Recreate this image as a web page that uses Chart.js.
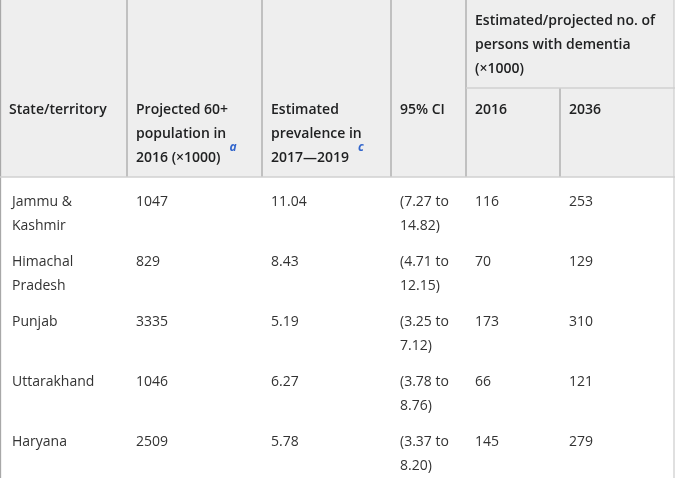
<!DOCTYPE html>
<html>
<head>
<meta charset="utf-8">
<script src="https://cdn.jsdelivr.net/npm/chart.js@4"></script>
<style>
  html, body { margin: 0; padding: 0; background: #fff; }
  #wrap { width: 675px; height: 478px; }
</style>
</head>
<body>
<div id="wrap"><canvas id="tbl" width="675" height="478"></canvas></div>
<script>
// dados da tabela
const states = [['Jammu &', 'Kashmir'], ['Himachal', 'Pradesh'], ['Punjab'], ['Uttarakhand'], ['Haryana']];
const population2016 = [1047, 829, 3335, 1046, 2509];
const prevalence = ['11.04', '8.43', '5.19', '6.27', '5.78'];
const ciLow = ['7.27', '4.71', '3.25', '3.78', '3.37'];
const ciHigh = ['14.82', '12.15', '7.12', '8.76', '8.20'];
const dementia2016 = [116, 70, 173, 66, 145];
const dementia2036 = [253, 129, 310, 121, 279];

const headers = [
    { lines: ['State/territory'], sup: '' },
    { lines: ['Projected 60+', 'population in', '2016 (\u00d71000)'], sup: 'a' },
    { lines: ['Estimated', 'prevalence in', '2017\u20142019'], sup: 'c' },
    { lines: ['95% CI'], sup: '' }
];
const groupHeader = ['Estimated/projected no. of', 'persons with dementia', '(\u00d71000)'];
const subHeaders = ['2016', '2036'];

// layout (coordenadas do eixo)
const colX = [0, 127, 262, 391, 466, 560, 675];
const headBottom = 177;
const subLine = 88;
const headY = 110;
const rowTop = 202;
const rowStep = 60;
const lineH = 24;
const pad = 9;

const tablePlugin = {
    id: 'tablePlugin',
    afterDraw(chart) {
        const ctx = chart.ctx;
        const X = v => chart.scales.x.getPixelForValue(v);
        const Y = v => chart.scales.y.getPixelForValue(v);
        ctx.save();

        // fundo do cabeçalho
        ctx.fillStyle = '#eeeeee';
        ctx.fillRect(X(0), Y(0), X(674) - X(0), Y(headBottom) - Y(0));

        // linhas
        ctx.strokeStyle = '#a8a8a8';
        ctx.lineWidth = 1.3;
        function line(x1, y1, x2, y2) {
            ctx.beginPath();
            ctx.moveTo(X(x1), Y(y1));
            ctx.lineTo(X(x2), Y(y2));
            ctx.stroke();
        }
        line(0.5, 0, 0.5, 478);
        [1, 2, 3, 4].forEach(i => line(colX[i], 0, colX[i], headBottom));
        line(colX[5], subLine, colX[5], headBottom);
        ctx.strokeStyle = '#d0d0d0';
        line(colX[4], subLine, 675, subLine);
        line(0, headBottom, 675, headBottom);
        line(674, 0, 674, 478);

        ctx.textBaseline = 'middle';
        ctx.textAlign = 'left';

        // cabeçalho
        ctx.fillStyle = '#202122';
        ctx.font = '600 14px "Open Sans"';
        headers.forEach((h, i) => {
            h.lines.forEach((t, j) => {
                ctx.fillText(t, X(colX[i] + pad), Y(headY + j * lineH));
            });
            if (h.sup) {
                const last = h.lines[h.lines.length - 1];
                const w = ctx.measureText(last).width;
                ctx.save();
                ctx.fillStyle = '#3366cc';
                ctx.font = 'italic 700 12px "Open Sans"';
                ctx.fillText(h.sup, X(colX[i] + pad) + w + 9, Y(headY + (h.lines.length - 1) * lineH - 10));
                ctx.restore();
            }
        });
        groupHeader.forEach((t, j) => {
            ctx.fillText(t, X(colX[4] + pad), Y(21 + j * lineH));
        });
        subHeaders.forEach((t, k) => {
            ctx.fillText(t, X(colX[4 + k] + pad), Y(headY));
        });

        // corpo
        ctx.fillStyle = '#333333';
        ctx.font = '14px "Open Sans"';
        states.forEach((s, r) => {
            const y0 = rowTop + r * rowStep;
            s.forEach((t, j) => ctx.fillText(t, X(colX[0] + pad + 3), Y(y0 + j * lineH)));
            ctx.fillText(String(population2016[r]), X(colX[1] + pad), Y(y0));
            ctx.fillText(prevalence[r], X(colX[2] + pad), Y(y0));
            ctx.fillText('(' + ciLow[r] + ' to', X(colX[3] + pad), Y(y0));
            ctx.fillText(ciHigh[r] + ')', X(colX[3] + pad), Y(y0 + lineH));
            ctx.fillText(String(dementia2016[r]), X(colX[4] + pad), Y(y0));
            ctx.fillText(String(dementia2036[r]), X(colX[5] + pad), Y(y0));
        });

        ctx.restore();
    }
};

new Chart(document.getElementById('tbl'), {
    type: 'scatter',
    data: { datasets: [{ data: [] }] },
    options: {
        responsive: false,
        animation: false,
        layout: { padding: 0 },
        plugins: { legend: { display: false }, tooltip: { enabled: false } },
        scales: {
            x: { type: 'linear', min: 0, max: 675, display: false },
            y: { type: 'linear', min: 0, max: 478, reverse: true, display: false }
        }
    },
    plugins: [tablePlugin]
});
</script>
</body>
</html>
